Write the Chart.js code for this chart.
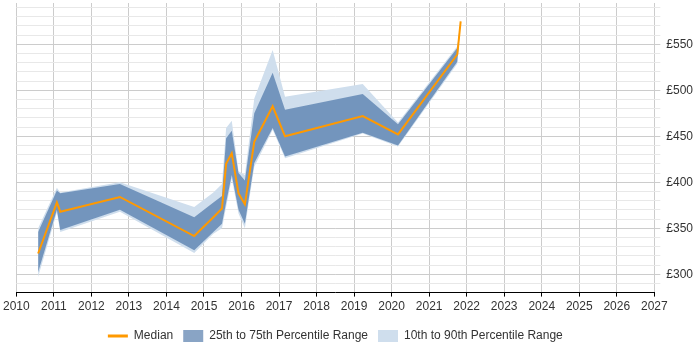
<!DOCTYPE html>
<html>
<head>
<meta charset="utf-8">
<script src="https://cdn.jsdelivr.net/npm/chart.js@4/dist/chart.umd.min.js"></script>
<style>
  html, body { margin: 0; padding: 0; background: #fff; }
  #wrap { width: 700px; height: 350px; }
</style>
</head>
<body>
<div id="wrap"><canvas id="rate-chart"></canvas></div>
<script>
// dates (decimal years) and daily rate percentiles
const years = [2010.58, 2011.08, 2011.17, 2012.76, 2014.74, 2015.25, 2015.48, 2015.59, 2015.74, 2015.92, 2016.09, 2016.34, 2016.83, 2017.16, 2019.23, 2020.17, 2021.75, 2021.84];
const median = [322.5, 378, 368, 384, 341.5, 362, 371.5, 420, 431.5, 388, 376, 444, 482.7, 450, 472, 452, 539, 575];
const p25 = [302, 370, 348, 370, 326, 346, 355, 378, 408, 370, 355, 421, 459, 428, 454, 440, 531, 574];
const p75 = [346, 391, 388, 398, 362, 378, 385, 448, 456, 410, 402, 475, 519, 479, 496, 463, 546, 576];
const p10 = [297, 367, 346, 368, 323, 344, 350, 373, 404, 366, 350, 417, 457, 426, 453, 439, 529, 574];
const p90 = [350, 394, 389, 400, 373, 389, 398, 459, 467, 412, 408, 491, 544, 493, 507, 465, 548, 578];
const yTicks = [290, 300, 310, 320, 330, 340, 350, 360, 370, 380, 390, 400, 410, 420, 430, 440, 450, 460, 470, 480, 490, 500, 510, 520, 530, 540, 550, 560, 570, 580, 590];

const orange = "#ff9900";
const dark = "rgba(40, 90, 150, 0.55)";
const light = "rgb(207, 222, 237)";

const pts = (arr) => arr.map((v, i) => ({ x: years[i], y: v }));
const band = (data, fill, color) => ({
  data: pts(data),
  borderWidth: 0,
  pointRadius: 0,
  backgroundColor: color,
  fill,
});

Chart.defaults.font.family = "'Liberation Sans', Arial, sans-serif";
Chart.defaults.font.size = 12;
Chart.defaults.color = "#333";

new Chart(document.querySelector("#rate-chart"), {
  type: "line",
  data: {
    datasets: [
      { label: "Median", data: pts(median), borderColor: orange, borderWidth: 2, pointRadius: 0, fill: false },
      band(p75, "+1", dark),
      band(p25, false, dark),
      band(p90, "+1", light),
      band(p10, false, light),
    ],
  },
  options: {
    responsive: true,
    maintainAspectRatio: false,
    animation: false,
    elements: { line: { tension: 0 } },
    layout: { padding: { top: 3, right: 1, left: 0, bottom: -2 } },
    plugins: {
      tooltip: { enabled: false },
      legend: {
        position: "bottom",
        fullSize: false,
        labels: {
          usePointStyle: true,
          pointStyleWidth: 20,
          boxHeight: 12,
          padding: 10,
          generateLabels: () => [
            { text: "Median", pointStyle: "line", strokeStyle: orange, fillStyle: orange, lineWidth: 3, fontColor: "#333" },
            { text: "25th to 75th Percentile Range", pointStyle: "rect", strokeStyle: dark, fillStyle: dark, lineWidth: 0, fontColor: "#333" },
            { text: "10th to 90th Percentile Range", pointStyle: "rect", strokeStyle: light, fillStyle: light, lineWidth: 0, fontColor: "#333" },
          ],
        },
      },
    },
    scales: {
      x: {
        type: "linear",
        min: 2010,
        max: 2027,
        afterFit: (scale) => { scale.height += 3; },
        ticks: { stepSize: 1, autoSkip: false, maxRotation: 0, padding: 3, callback: (v) => String(v) },
        grid: { color: "#cccccc", tickColor: "#000", tickLength: 4 },
        border: { color: "#000", width: 1 },
      },
      y: {
        position: "right",
        min: 280,
        max: 595,
        afterBuildTicks: (scale) => { scale.ticks = yTicks.map((v) => ({ value: v })); },
        // the top tick has no label, so don't keep room for one
        afterFit: (scale) => { scale.paddingTop = 0; },
        ticks: { padding: 6, autoSkip: false, callback: (v) => (v % 50 === 0 ? "£" + v : "") },
        grid: {
          color: (c) => (c.tick && c.tick.value % 50 === 0 ? "#cccccc" : "#e8e8e8"),
          tickLength: 6,
        },
        border: { display: false },
      },
    },
  },
});
</script>
</body>
</html>
